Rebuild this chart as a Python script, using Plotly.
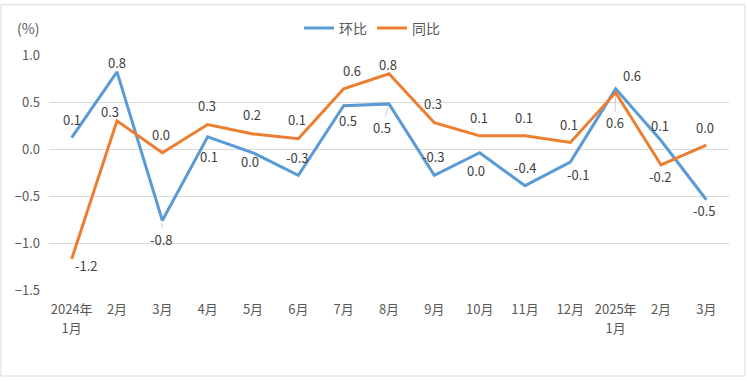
import plotly.graph_objects as go

categories = ["2024年<br>1月", "2月", "3月", "4月", "5月", "6月", "7月", "8月", "9月",
              "10月", "11月", "12月", "2025年<br>1月", "2月", "3月"]
mom = [0.12, 0.82, -0.76, 0.13, -0.04, -0.28, 0.46, 0.48, -0.28, -0.04, -0.39, -0.14, 0.64, 0.09, -0.54]
yoy = [-1.17, 0.30, -0.04, 0.26, 0.16, 0.11, 0.64, 0.80, 0.28, 0.14, 0.14, 0.07, 0.60, -0.17, 0.04]
y_ticks = [1.0, 0.5, 0.0, -0.5, -1.0, -1.5]

# label offsets (pixels): (dx, dy up)
mom_off = [(0, 18), (0, 9), (-1, -19), (1, -20), (-3, -9), (-1, 18), (4, -15), (-7, -24), (-1, 19),
           (-4, -18), (0, 18), (8, -12), (16, 13), (-1, 15), (-2, -11)]
yoy_off = [(15, -7), (-7, 9), (-1, 18), (-1, 19), (-1, 19), (-1, 19), (8, 18), (-1, 9), (-1, 19),
           (-1, 18), (-1, 18), (-1, 18), (-1, -30), (-1, -12), (-1, 18)]
mom_lead = [3, 8]
yoy_lead = [13]

x_idx = list(range(len(categories)))
line1 = [c.split("<br>")[0] for c in categories]
line2 = [c.split("<br>")[1] if "<br>" in c else "" for c in categories]

blue = "#5B9BD5"
orange = "#ED7D31"
font_fam = "Noto Sans CJK SC"
txt = "#595959"


def fmt(v):
    s = f"{v:.1f}"
    return "0.0" if s == "-0.0" else s


fig = go.Figure()
fig.add_trace(go.Scatter(x=x_idx, y=mom, mode="lines", name="环比",
                         line=dict(color=blue, width=3)))
fig.add_trace(go.Scatter(x=x_idx, y=yoy, mode="lines", name="同比",
                         line=dict(color=orange, width=3)))
# invisible helper trace for the second line of the category labels
fig.add_trace(go.Scatter(x=x_idx, y=[None] * len(x_idx), xaxis="x2", showlegend=False,
                         hoverinfo="skip", mode="lines"))

anns = []
for series, offs, leads in ((mom, mom_off, mom_lead), (yoy, yoy_off, yoy_lead)):
    for i, v in enumerate(series):
        dx, dy = offs[i]
        anns.append(dict(x=x_idx[i], y=v, xref="x", yref="y", text=fmt(v),
                         showarrow=True, ax=dx, ay=-dy, arrowhead=0, arrowwidth=0.8,
                         arrowcolor="#bfbfbf" if (i + 1) in leads else "rgba(0,0,0,0)",
                         standoff=3,
                         font=dict(size=13, color="#404040", family=font_fam)))
anns.append(dict(x=-0.031, y=1.113, xref="paper", yref="paper", text="(%)", showarrow=False,
                 xanchor="center", yanchor="middle",
                 font=dict(size=14, color=txt, family=font_fam)))
fig.update_layout(annotations=anns)

fig.add_shape(type="rect", xref="paper", yref="paper", x0=-0.0706, x1=1.0235, y0=-0.366, y1=1.214,
              line=dict(color="#d9d9d9", width=1))

fig.update_layout(
    width=747, height=381,
    margin=dict(l=49, r=18, t=52, b=91),
    paper_bgcolor="white", plot_bgcolor="white",
    font=dict(family=font_fam, color=txt, size=13),
    legend=dict(orientation="h", x=0.475, xanchor="center", y=1.113, yanchor="middle",
                font=dict(size=14, color=txt), itemwidth=30),
    xaxis=dict(tickmode="array", tickvals=x_idx, ticktext=line1, range=[-0.5, 14.5],
               showgrid=False, zeroline=False, showline=False, ticks="",
               tickfont=dict(size=13, color=txt), ticklabelstandoff=10),
    xaxis2=dict(tickmode="array", tickvals=x_idx, ticktext=line2, range=[-0.5, 14.5],
                overlaying="x", side="bottom", anchor="y",
                showgrid=False, zeroline=False, showline=False, ticks="",
                tickfont=dict(size=13, color=txt), ticklabelstandoff=29),
    yaxis=dict(range=[-1.5, 1.0], tickvals=y_ticks, tickformat=".1f", showgrid=True,
               gridcolor="#d9d9d9", gridwidth=1, zeroline=False, showline=False,
               tickfont=dict(size=13, color=txt), ticks="", ticklabelstandoff=8),
)

fig.write_html("out.html", config={"displayModeBar": False},
               post_script="document.body.style.margin='0';document.body.style.overflow='hidden';")
